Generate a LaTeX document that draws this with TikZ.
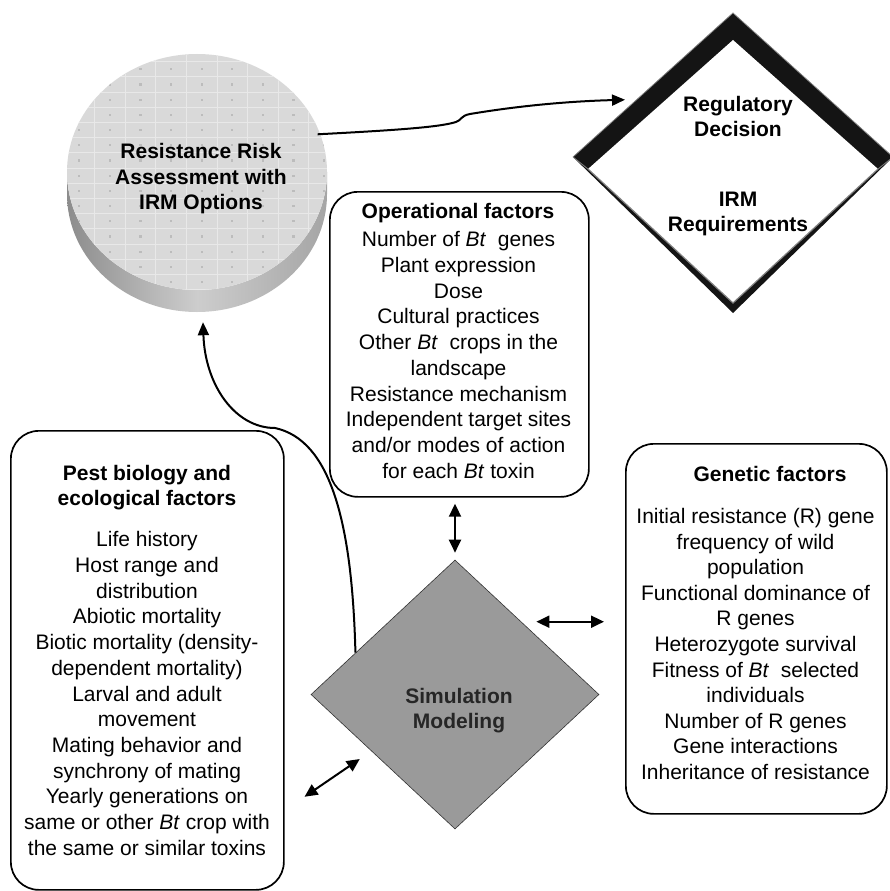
\documentclass[tikz,border=0pt]{standalone}
\usepackage{fontspec}
\setmainfont{Liberation Sans}
\usetikzlibrary{shapes.geometric,arrows.meta,calc}
\definecolor{simgray}{RGB}{154,154,154}
\definecolor{cyltop}{RGB}{217,217,217}
\definecolor{cylgrid}{RGB}{232,232,232}
\definecolor{cyldot}{RGB}{188,188,188}
\definecolor{cylL}{RGB}{140,140,140}
\definecolor{cylM}{RGB}{205,205,205}
\definecolor{cylR}{RGB}{165,165,165}
\tikzset{
  box/.style={draw, line width=1.7pt, rounded corners=28pt, inner sep=0pt, anchor=north west},
  txt/.style={font={\fontsize{21}{25.7}\selectfont}, align=center, inner sep=0pt},
  btxt/.style={font={\fontsize{21}{25.7}\selectfont\bfseries}, align=center, inner sep=0pt},
  conn/.style={line width=2pt},
  dbl/.style={conn, {Triangle[length=13pt,width=12pt]}-{Triangle[length=13pt,width=12pt]}},
  single/.style={conn, -{Triangle[length=13pt,width=11pt]}},
}
\begin{document}
\begin{tikzpicture}[x=1pt,y=-1pt]
\useasboundingbox (0,0) rectangle (890,891);

% ---------- cylinder ----------
\shade[left color=cylL, right color=cylR, middle color=cylM]
  (67,172) -- (67,194) arc[start angle=180,end angle=0,x radius=130,y radius=118]
  -- (327,172) arc[start angle=0,end angle=180,x radius=130,y radius=118] -- cycle;
\fill[cyltop] (197,172) ellipse[x radius=130,y radius=118];
\begin{scope}
  \clip (197,172) ellipse[x radius=130,y radius=118];
  \foreach \x in {64,94.6,...,330} \draw[cylgrid, line width=0.9pt] (\x,50) -- (\x,320);
  \foreach \y in {61.7,76.9,...,320} \draw[cylgrid, line width=0.9pt] (60,\y) -- (335,\y);
  \foreach \x in {79.3,109.9,...,330} \foreach \y in {69.3,84.5,...,320}
    \fill[cyldot] (\x-1.1,\y-1.1) rectangle ++(2.2,2.2);
\end{scope}
\node[ellipse, minimum width=260pt, minimum height=258pt, inner sep=0pt] (cyl) at (197,183) {};
\node[btxt] (cyltxt) at (201,178.6) {Resistance Risk\\Assessment with\\IRM Options};

% ---------- regulatory diamond ----------
\coordinate (rN) at (733,13);
\coordinate (rW) at (573,157);
\coordinate (rS) at (733,313);
\coordinate (rE) at (893,157);
\coordinate (iN) at (733,40);
\coordinate (iW) at (588,169);
\coordinate (iS) at (733,303);
\coordinate (iE) at (878,169);
\fill[black!92] (rN) -- (rE) -- (rS) -- (rW) -- cycle;
\fill[white] (iN) -- (iE) -- (iS) -- (iW) -- cycle;
\draw[gray, line width=1.2pt] (iW) -- (iS) -- (iE);
\draw[gray, line width=0.8pt] (rW) -- (rN) -- (rE);
\draw[gray, line width=0.8pt] (rW) -- (iW) (rE) -- (iE);
\node[btxt, font={\fontsize{21}{25}\selectfont\bfseries}] (reg1) at (738,116.6) {Regulatory\\Decision};
\node[btxt, font={\fontsize{21}{25}\selectfont\bfseries}] (reg2) at (738,213.8) {IRM\\Requirements};

% ---------- boxes ----------
\node[box, minimum width=259pt, minimum height=305pt] (op) at (329,191) {};
\node[btxt] (opH) at (458,213) {Operational factors};
\node[txt] (opB) at (458.5,355) {Number of \textit{Bt}\ \ genes\\
Plant expression\\
Dose\\
Cultural practices\\
Other \textit{Bt}\ \ crops in the\\
landscape\\
Resistance mechanism\\
Independent target sites\\
and/or modes of action\\
for each \textit{Bt} toxin};

\node[box, minimum width=273pt, minimum height=459pt] (pest) at (10,430) {};
\node[btxt] (pestH) at (147,487.5) {Pest biology and\\ecological factors};
\node[txt] (pestB) at (147,693.5) {Life history\\
Host range and\\
distribution\\
Abiotic mortality\\
Biotic mortality (density-\\
dependent mortality)\\
Larval and adult\\
movement\\
Mating behavior and\\
synchrony of mating\\
Yearly generations on\\
same or other \textit{Bt} crop with\\
the same or similar toxins};

\node[box, minimum width=261pt, minimum height=370pt] (gen) at (625,443) {};
\node[btxt] (genH) at (770,474) {Genetic factors};
\node[txt, font={\fontsize{21}{25.6}\selectfont}] (genB) at (755.5,644) {Initial resistance (R) gene\\
frequency of wild\\
population\\
Functional dominance of\\
R genes\\
Heterozygote survival\\
Fitness of \textit{Bt}\ \ selected\\
individuals\\
Number of R genes\\
Gene interactions\\
Inheritance of resistance};

% ---------- simulation diamond ----------
\node[diamond, draw=black!80, line width=0.6pt, fill=simgray, minimum width=288pt, minimum height=269pt, inner sep=0pt] (sim) at (455,694.5) {};
\node[btxt, font={\fontsize{21}{25}\selectfont\bfseries}, text=black!85] (simtxt) at (459,710.5) {Simulation\\Modeling};

% ---------- connectors ----------
\coordinate (cylout) at (cyl.22);
\coordinate (regin) at ($(rW)!0.4!(rN)$);
\draw[single, shorten >=12pt] (cylout) .. controls (400,130) and (440,127) .. (456,122)
  .. controls (462,120) and (460,116) .. (470,114)
  .. controls (530,104) and (580,101) .. (regin);

\coordinate (simout) at ($(sim.west)!0.31!(sim.north)$);
\coordinate (cylin) at ($(cyl.south)+(6,10)$);
\draw[single] (simout) .. controls (352,520) and (330,440) .. (275,428)
  .. controls (235,428) and (205,385) .. (cylin);

\draw[dbl, shorten <=6pt, shorten >=7pt] (op.south -| sim.north) -- (sim.north);

\coordinate (simE) at ($(sim.north)!0.46!(sim.east)$);
\draw[dbl, shorten <=15pt, shorten >=21pt] (simE) -- (simE -| gen.west);

\coordinate (simSW) at ($(sim.west)!0.42!(sim.south)$);
\coordinate (pestE) at (pest.east |- 0,810.3);
\draw[dbl, shorten <=24pt, shorten >=14pt] (pestE) -- (simSW);
\end{tikzpicture}
\end{document}
